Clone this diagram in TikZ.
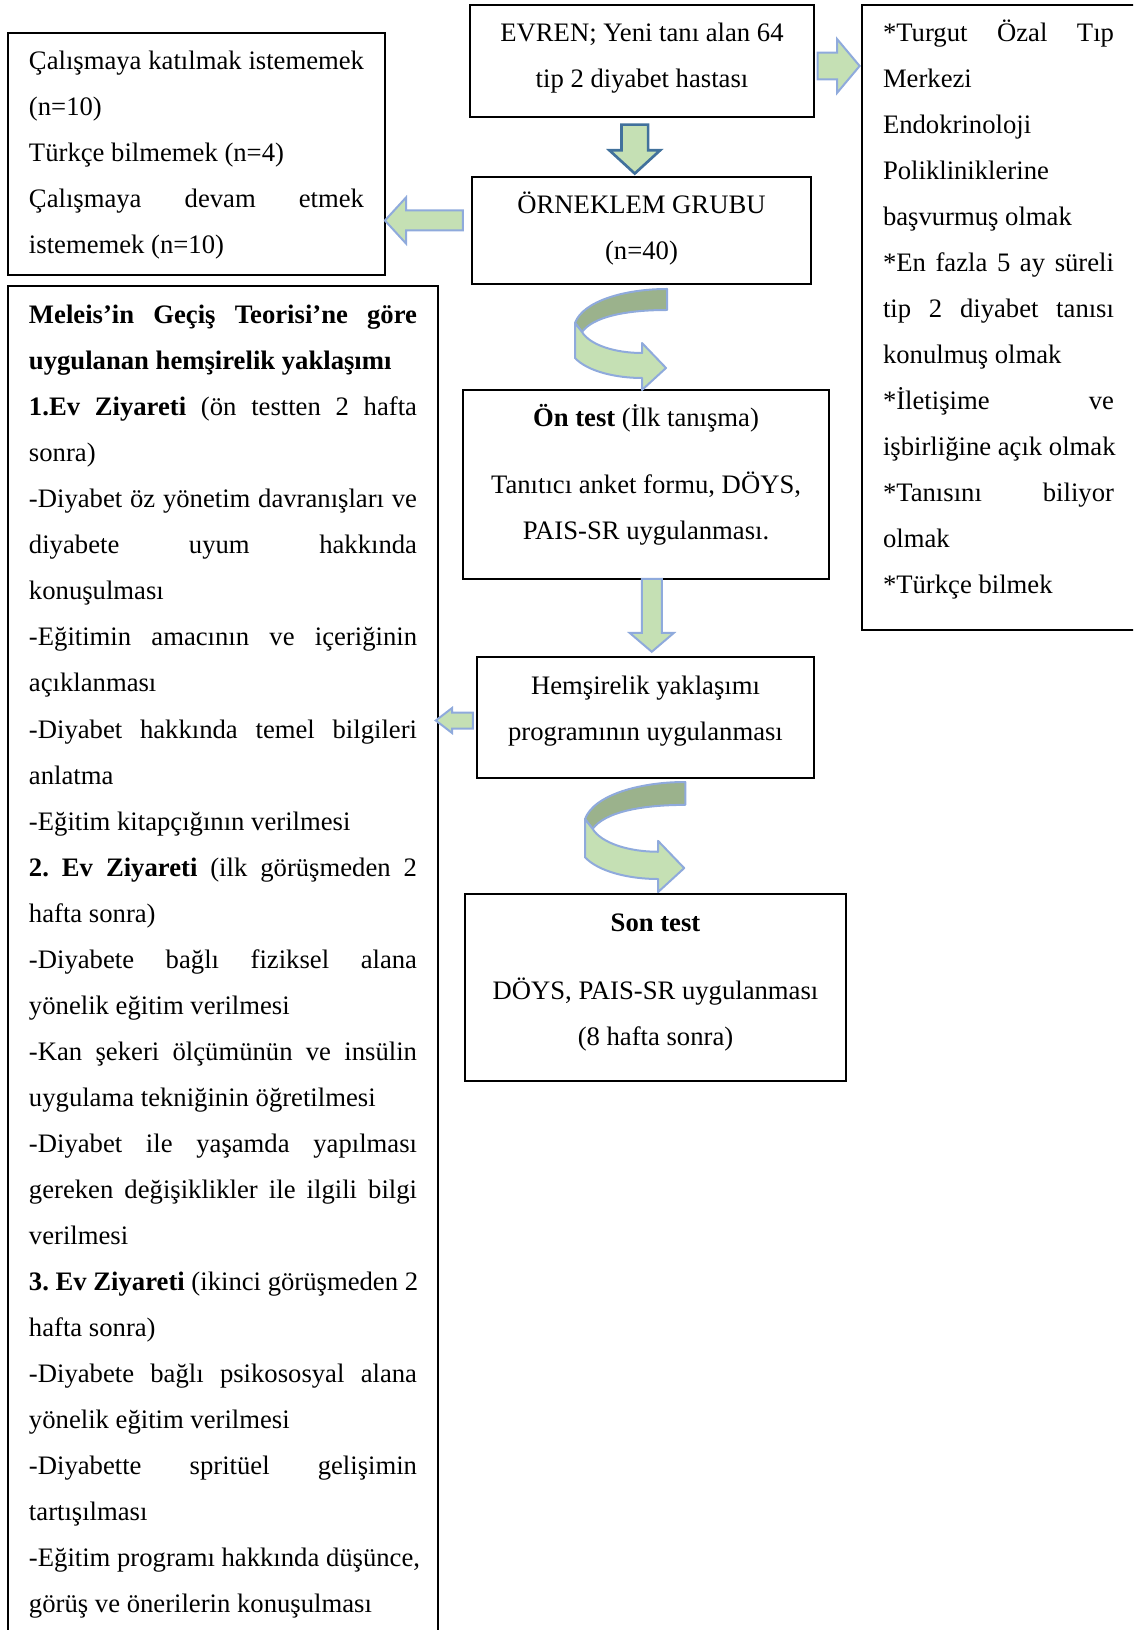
\documentclass[tikz,border=0pt]{standalone}
\usepackage{fontspec}
\setmainfont{Liberation Serif}
\usetikzlibrary{calc,shapes.arrows}

\definecolor{arrowgreen}{HTML}{C5E0B4}
\definecolor{bandgreen}{HTML}{9BB28C}
\definecolor{arrowblue}{HTML}{8FAADC}
\definecolor{darkblue}{HTML}{41719C}

% a justified line that fills the text width
\newcommand{\fullline}[1]{{\spaceskip=0.25em plus 10em\xspaceskip=0.25em plus 10em\relax
  \makebox[\linewidth][s]{#1}}}

\begin{document}
\begin{tikzpicture}[x=0.45pt,y=-0.45pt]
  \tikzset{box/.style={draw, line width=1pt, anchor=north west, outer sep=0pt,
                       inner xsep=9.45pt, inner ysep=0pt, text height=16.65pt,
                       font=\fontsize{12pt}{20.7pt}\selectfont},
           flowarrow/.style={single arrow, draw=arrowblue, fill=arrowgreen,
                             line width=0.9pt, inner xsep=0pt, outer sep=0pt, minimum width=1pt},
           turnarrow/.pic={
             \filldraw[draw=arrowblue, fill=bandgreen, line width=0.9pt, line join=round]
               (92,0) .. controls (50,0) and (8,12) .. (0,34) -- (7,43)
               .. controls (18,28) and (50,21) .. (92,21) -- cycle;
             \filldraw[draw=arrowblue, fill=arrowgreen, line width=0.9pt, line join=round]
               (0,34) -- (0,69) .. controls (12,82) and (40,89) .. (67,89) -- (67,101)
               -- (91,79) -- (67,54) -- (67,64) .. controls (40,64) and (15,56) .. (7,43) -- cycle;
           }}
  \useasboundingbox (0,0) rectangle (1133,1630);
  \clip (0,0) rectangle (1133,1630);

  % boxes
  \node[box, text depth=92.25pt] (dropout) at (8,33) {\begin{minipage}[t]{150.75pt}
    \fullline{Çalışmaya katılmak istememek}\\
    (n=10)\\
    Türkçe bilmemek (n=4)\\
    \fullline{Çalışmaya devam etmek}\\
    istememek (n=10)\end{minipage}};
  \node[box, text height=17.1pt, text depth=601.2pt] (plan) at (8,286) {\begin{minipage}[t]{174.6pt}
    \fullline{\textbf{Meleis’in Geçiş Teorisi’ne göre}}\\
    \textbf{uygulanan hemşirelik yaklaşımı}\\
    \fullline{\textbf{1.Ev Ziyareti} (ön testten 2 hafta}\\
    sonra)\\
    \fullline{-Diyabet öz yönetim davranışları ve}\\
    \fullline{diyabete uyum hakkında}\\
    konuşulması\\
    \fullline{-Eğitimin amacının ve içeriğinin}\\
    açıklanması\\
    \fullline{-Diyabet hakkında temel bilgileri}\\
    anlatma\\
    -Eğitim kitapçığının verilmesi\\
    \fullline{\textbf{2. Ev Ziyareti} (ilk görüşmeden 2}\\
    hafta sonra)\\
    \fullline{-Diyabete bağlı fiziksel alana}\\
    yönelik eğitim verilmesi\\
    \fullline{-Kan şekeri ölçümünün ve insülin}\\
    uygulama tekniğinin öğretilmesi\\
    \fullline{-Diyabet ile yaşamda yapılması}\\
    \fullline{gereken değişiklikler ile ilgili bilgi}\\
    verilmesi\\
    \fullline{\textbf{3. Ev Ziyareti} (ikinci görüşmeden 2}\\
    hafta sonra)\\
    \fullline{-Diyabete bağlı psikososyal alana}\\
    yönelik eğitim verilmesi\\
    \fullline{-Diyabette spritüel gelişimin}\\
    tartışılması\\
    \fullline{-Eğitim programı hakkında düşünce,}\\
    görüş ve önerilerin konuşulması\end{minipage}};
  \node[box, text depth=264.6pt] (crit) at (862,5) {\begin{minipage}[t]{103.95pt}
    \fullline{*Turgut Özal Tıp}\\
    Merkezi\\
    Endokrinoloji\\
    Polikliniklerine\\
    başvurmuş olmak\\
    \fullline{*En fazla 5 ay süreli}\\
    \fullline{tip 2 diyabet tanısı}\\
    konulmuş olmak\\
    \fullline{*İletişime ve}\\
    \fullline{işbirliğine açık olmak}\\
    \fullline{*Tanısını biliyor}\\
    olmak\\
    {*}Türkçe bilmek\end{minipage}};
  \node[box, text depth=33.75pt] (evren) at (470,5) {\begin{minipage}[t]{135.9pt}\centering
    EVREN; Yeni tanı alan 64\\ tip 2 diyabet hastası\end{minipage}};
  \node[box, text depth=31.5pt] (sample) at (472,177) {\begin{minipage}[t]{133.65pt}\centering
    ÖRNEKLEM GRUBU\\ (n=40)\end{minipage}};
  \node[box, text depth=68.4pt] (ontest) at (463,390) {\begin{minipage}[t]{145.8pt}\centering
    \textbf{Ön test} (İlk tanışma)\\[9.45pt] Tanıtıcı anket formu, DÖYS,\\ PAIS-SR uygulanması.\end{minipage}};
  \node[box, text depth=37.8pt] (program) at (477,657) {\begin{minipage}[t]{132.75pt}\centering
    Hemşirelik yaklaşımı\\ programının uygulanması\end{minipage}};
  \node[box, text depth=67.5pt] (posttest) at (465,894) {\begin{minipage}[t]{152.55pt}\centering
    \textbf{Son test}\\[9.9pt] DÖYS, PAIS-SR uygulanması\\ (8 hafta sonra)\end{minipage}};

  % block arrows
  \node[flowarrow, minimum height=18.9pt, inner ysep=5.6pt, single arrow head extend=6.1pt,
        single arrow tip angle=100] (a1) at ($(evren.east)!.5!(evren.east -| crit.west)+(-5,5)$) {};
  \node[flowarrow, draw=darkblue, line width=1.2pt, minimum height=22pt, inner ysep=5.4pt,
        single arrow head extend=5.4pt, single arrow tip angle=95, rotate=-90]
        (a2) at ($(evren.south)!.5!(sample.north)+(-7,-4)$) {};
  \node[flowarrow, minimum height=35.1pt, inner ysep=4.05pt, single arrow head extend=5.85pt,
        single arrow tip angle=95, rotate=180]
        (a3) at ($(sample.west)!.5!(sample.west -| dropout.east)+(0,-10)$) {};
  \node[flowarrow, minimum height=32.85pt, inner ysep=4.05pt, single arrow head extend=5.4pt,
        single arrow tip angle=99, rotate=-90]
        (a4) at ($(ontest.south)!.5!(program.north)+(6,-7)$) {};
  \node[flowarrow, minimum height=16.65pt, inner ysep=3.15pt, single arrow head extend=2pt,
        single arrow tip angle=75, rotate=180]
        (a5) at ($(program.west)!.5!(program.west -| plan.east)+(2,3)$) {};

  % turning arrows
  \pic at ($(sample.south)+(-66.5,5)$) {turnarrow};
  \pic[scale=1.09] at ($(program.south)+(-60.5,4)$) {turnarrow};
\end{tikzpicture}
\end{document}
